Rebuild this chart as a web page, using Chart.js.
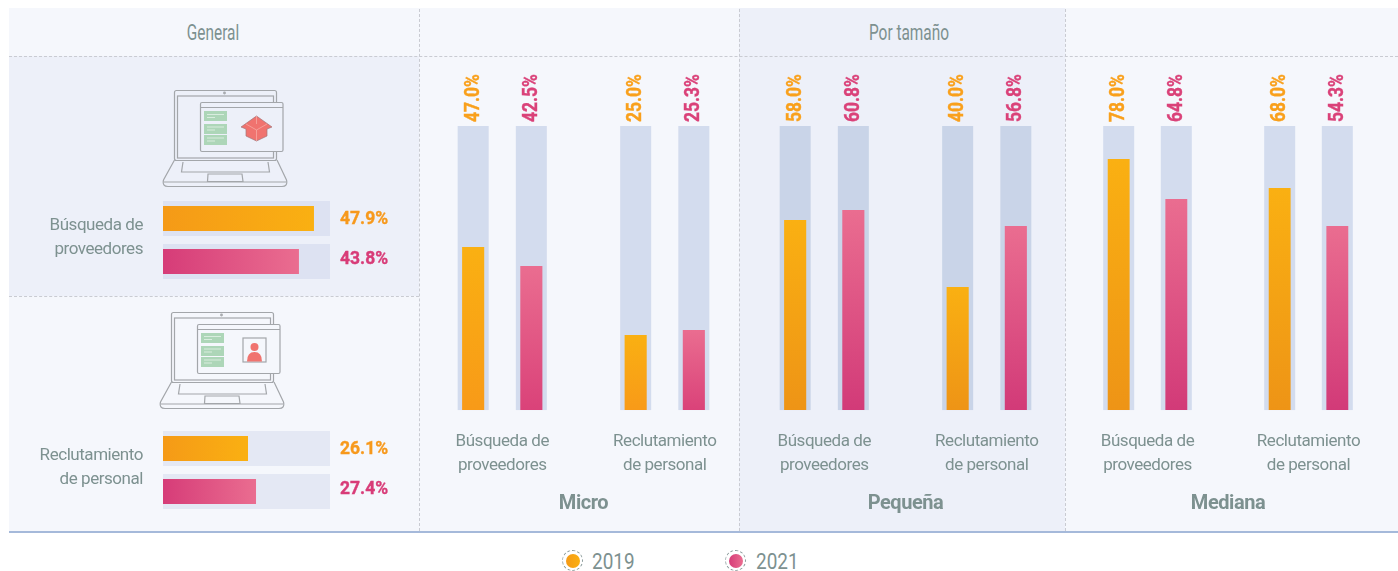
<!DOCTYPE html>
<html>
<head>
<meta charset="utf-8">
<script src="https://cdn.jsdelivr.net/npm/chart.js@4"></script>
<style>
    html, body { margin: 0; padding: 0; background: #fff; }
    #page { position: relative; width: 1398px; height: 571px; overflow: hidden; font-family: Roboto, sans-serif; color: #7d9190; }
    #page > div, #page > canvas, #page > svg { position: absolute; }
    .band { background: #edf0f9; }
    .head { top: 20px; font-size: 22px; line-height: 26px; transform: scaleX(.7); text-align: center; white-space: nowrap; }
    .dot { width: 14px; height: 14px; border-radius: 50%; top: 554px; }
    .ring { width: 21px; height: 21px; border-radius: 50%; top: 550px; border: 1px dashed #8b9c9c; box-sizing: border-box; }
    .year { top: 549px; font-size: 22px; line-height: 26px; transform: scaleX(.86); transform-origin: left center; }
    .rule { border-color: #c9cbd2; border-style: dashed; border-width: 0; }
</style>
</head>
<body>
<div id="page">
    <div style="left:9px;top:8px;width:1389px;height:523px;background:#f5f7fc"></div>
    <div class="band" style="left:9px;top:56px;width:410px;height:240px"></div>
    <div class="band" style="left:739px;top:8px;width:326px;height:523px"></div>
    <div class="rule" style="left:9px;top:56px;width:1389px;border-top-width:1px"></div>
    <div class="rule" style="left:9px;top:296px;width:410px;border-top-width:1px"></div>
    <div class="rule" style="left:419px;top:9px;height:522px;border-left-width:1px"></div>
    <div class="rule" style="left:739px;top:9px;height:522px;border-left-width:1px"></div>
    <div class="rule" style="left:1065px;top:9px;height:522px;border-left-width:1px"></div>
    <div style="left:9px;top:531px;width:1389px;height:2px;background:#a5b9da"></div>

    <div class="head" style="left:113px;width:200px">General</div>
    <div class="head" style="left:809px;width:200px">Por tamaño</div>

    <svg id="icons" style="left:0;top:0" width="430" height="430" fill="none" stroke="#a3a6aa" stroke-width="1.2">
        <defs>
            <g id="laptop">
                <rect x="174.5" y="90.5" width="102" height="70" rx="2"/>
                <rect x="177.5" y="96" width="96" height="62"/>
                <path d="M174.5 160 L163.5 180 Q162 186.5 168 186.5 L282 186.5 Q288 186.5 286.5 180 L277 160"/>
                <path d="M164 182 L286 182"/>
                <path d="M183 162 L181.5 172 L269.5 172 L268 162"/>
                <path d="M208 174 L207.5 181.5 L243 181.5 L242 174 Z"/>
                <circle cx="224.5" cy="93" r=".8"/>
                <rect x="200.5" y="102.5" width="82.5" height="49" rx="1.5" style="fill:var(--win)"/>
                <path d="M200.5 107.5 L283 107.5"/>
                <g fill="#add6b8" stroke="none">
                    <rect x="204" y="111" width="23" height="10"/>
                    <rect x="204" y="124" width="23" height="10"/>
                    <rect x="204" y="135" width="23" height="10"/>
                </g>
                <g stroke="#e4f2e8" stroke-width=".8">
                    <path d="M207 114.5 H224 M207 117.5 H215 M207 127 H224 M207 130 H215 M207 138 H224 M207 141 H215"/>
                </g>
            </g>
        </defs>
        <use href="#laptop" style="--win:#edf0f9"/>
        <g stroke="#a3757a" stroke-width=".7" fill="#f0736f">
            <path d="M256.5 116 L272 127 L267 129 L267 136 L256.5 141 L246 136 L246 129 L241 127 Z"/>
            <path fill="none" stroke="#f6b0aa" d="M246 124 L256.5 130 L267 124 M256.5 130 L256.5 141 M256.5 116 L256.5 124"/>
        </g>
        <use href="#laptop" x="-3" y="222" style="--win:#f5f7fc"/>
        <rect x="243" y="338" width="23" height="24" fill="#f5f7fc"/>
        <circle cx="254.5" cy="347" r="4" fill="#f0736f" stroke="none"/>
        <path d="M247 361.5 Q247 352 254.5 352 Q262 352 262 361.5 Z" fill="#f0736f" stroke="none"/>
    </svg>

    <canvas id="generalA" style="left:0;top:197px;width:400px;height:86px"></canvas>
    <canvas id="generalB" style="left:0;top:427px;width:400px;height:86px"></canvas>
    <canvas id="micro" style="left:421px;top:60px;width:325px;height:472px"></canvas>
    <canvas id="pequena" style="left:743px;top:60px;width:325px;height:472px"></canvas>
    <canvas id="mediana" style="left:1067px;top:60px;width:322px;height:472px"></canvas>

    <div class="ring" style="left:562px"></div>
    <div class="dot" style="left:565.5px;background:linear-gradient(90deg,#f59a17,#fab012)"></div>
    <div class="year" style="left:592px">2019</div>
    <div class="ring" style="left:725px"></div>
    <div class="dot" style="left:728.5px;background:linear-gradient(90deg,#d63c78,#ea6d90)"></div>
    <div class="year" style="left:756px">2021</div>
</div>

<script>
// Years and question labels
const years = ['2019', '2021'];
const groupLabels = [['Búsqueda de', 'proveedores'], ['Reclutamiento', 'de personal']];

// Printed percentages
const microPrinted2019 = ['47.0%', '25.0%'];
const microPrinted2021 = ['42.5%', '25.3%'];
const pequenaPrinted2019 = ['58.0%', '40.0%'];
const pequenaPrinted2021 = ['60.8%', '56.8%'];
const medianaPrinted2019 = ['78.0%', '68.0%'];
const medianaPrinted2021 = ['64.8%', '54.3%'];
const generalPrintedA = ['47.9%', '43.8%'];
const generalPrintedB = ['26.1%', '27.4%'];

// Bar lengths, share of the track. The reference does
// not draw its bars in proportion to the printed numbers.
const micro2019 = [57.4, 26.4];
const micro2021 = [50.7, 28.2];
const pequena2019 = [66.9, 43.3];
const pequena2021 = [70.4, 64.8];
const mediana2019 = [88.4, 78.2];
const mediana2021 = [74.3, 64.8];
const generalA = [90.4, 81.4];
const generalB = [50.9, 55.7];

const FONT = 'Roboto, sans-serif';
const GREY = '#7d9190';
const ORANGE = ['#f59a17', '#fab012'];
const PINK = ['#d63c78', '#ea6d90'];

/**
 * Gradient over one bar, from its base to its tip
 */
function barGradient(ctx, colors, horizontal) {
    const chart = ctx.chart;
    if (!chart.chartArea || !ctx.parsed) {
        return colors[1];
    }
    const canvas = chart.ctx;
    let gradient;
    if (horizontal) {
        const x = chart.scales.x;
        gradient = canvas.createLinearGradient(x.getPixelForValue(0), 0, x.getPixelForValue(ctx.parsed.x), 0);
    } else {
        const y = chart.scales.y;
        gradient = canvas.createLinearGradient(0, y.getPixelForValue(0), 0, y.getPixelForValue(ctx.parsed.y));
    }
    gradient.addColorStop(0, colors[0]);
    gradient.addColorStop(1, colors[1]);
    return gradient;
}

// The reference is set in a condensed face, so tighten the axis text a little
const tightTextPlugin = {
    id: 'tightText',
    beforeDraw(chart) {
        chart.ctx.letterSpacing = '-0.45px';
    }
};

// Pale track behind every bar
const trackPlugin = {
    id: 'track',
    beforeDatasetsDraw(chart, args, opts) {
        const { ctx, scales } = chart;
        ctx.save();
        ctx.fillStyle = opts.color;
        chart.data.datasets.forEach((ds, i) => {
            chart.getDatasetMeta(i).data.forEach(bar => {
                if (chart.options.indexAxis === 'y') {
                    ctx.fillRect(scales.x.left, bar.y - opts.size / 2, scales.x.width, opts.size);
                } else {
                    ctx.fillRect(bar.x - opts.size / 2, scales.y.top, opts.size, scales.y.height);
                }
            });
        });
        ctx.restore();
    }
};

// Printed percentage: rotated on top of the track, or right of it
const printedPlugin = {
    id: 'printed',
    afterDatasetsDraw(chart) {
        const { ctx, scales } = chart;
        ctx.save();
        ctx.letterSpacing = '0px';
        ctx.textBaseline = 'middle';
        ctx.textAlign = 'left';
        ctx.lineWidth = 0.4;
        chart.data.datasets.forEach((ds, i) => {
            chart.getDatasetMeta(i).data.forEach((bar, j) => {
                ctx.save();
                ctx.fillStyle = ds.printedColor;
                ctx.strokeStyle = ds.printedColor;
                if (chart.options.indexAxis === 'y') {
                    ctx.font = 'bold 19px ' + FONT;
                    ctx.translate(scales.x.right + 10, bar.y + (i === 0 ? 1 : -2));
                    ctx.scale(0.92, 1);
                } else {
                    ctx.font = 'bold 20px ' + FONT;
                    ctx.translate(bar.x + 0.5, scales.y.top - 4);
                    ctx.rotate(-Math.PI / 2);
                    ctx.scale(0.87, 1);
                }
                ctx.fillText(ds.printed[j], 0, 0);
                ctx.strokeText(ds.printed[j], 0, 0);
                ctx.restore();
            });
        });
        ctx.restore();
    }
};

/**
 * Vertical panel: two question groups, two years each
 */
function sizeChart(id, title, v2019, v2021, p2019, p2021, trackColor, low) {
    new Chart(document.getElementById(id), {
        type: 'bar',
        data: {
            labels: groupLabels,
            datasets: [
                {
                    label: years[0], data: v2019, printed: p2019, printedColor: '#f9a01c',
                    backgroundColor: ctx => barGradient(ctx, [low[0], ORANGE[1]], false)
                },
                {
                    label: years[1], data: v2021, printed: p2021, printedColor: '#da4279',
                    backgroundColor: ctx => barGradient(ctx, [low[1], PINK[1]], false)
                }
            ]
        },
        options: {
            responsive: false,
            animation: false,
            layout: { padding: { top: 66 } },
            datasets: { bar: { categoryPercentage: 0.716, barPercentage: 0.38 } },
            plugins: {
                legend: { display: false },
                tooltip: { enabled: false },
                track: { color: trackColor, size: 31 }
            },
            scales: {
                y: { display: false, min: 0, max: 100 },
                x: {
                    grid: { display: false },
                    border: { display: false },
                    ticks: {
                        color: GREY,
                        padding: 12,
                        maxRotation: 0,
                        font: { family: FONT, size: 17, lineHeight: 1.41 }
                    },
                    title: {
                        display: true,
                        text: title,
                        color: GREY,
                        padding: { top: 2, bottom: 16 },
                        font: { family: FONT, size: 20, weight: 'bold' }
                    }
                }
            }
        },
        plugins: [tightTextPlugin, trackPlugin, printedPlugin]
    });
}

/**
 * Left panel: one question, horizontal bars for both years
 */
function generalChart(id, label, values, printed, trackColor) {
    new Chart(document.getElementById(id), {
        type: 'bar',
        data: {
            labels: [label],
            datasets: [
                {
                    label: years[0], data: [values[0]], printed: [printed[0]], printedColor: '#f7991c',
                    backgroundColor: ctx => barGradient(ctx, ORANGE, true)
                },
                {
                    label: years[1], data: [values[1]], printed: [printed[1]], printedColor: '#d83c78',
                    backgroundColor: ctx => barGradient(ctx, PINK, true)
                }
            ]
        },
        options: {
            indexAxis: 'y',
            responsive: false,
            animation: false,
            layout: { padding: { right: 70 } },
            datasets: { bar: { categoryPercentage: 1, barPercentage: 0.58 } },
            plugins: {
                legend: { display: false },
                tooltip: { enabled: false },
                track: { color: trackColor, size: 35 }
            },
            scales: {
                x: { display: false, min: 0, max: 100 },
                y: {
                    // Fixed gutter, and no room reserved for the two line label
                    afterFit: scale => {
                        scale.width = 163;
                        scale.paddingTop = 0;
                        scale.paddingBottom = 0;
                    },
                    grid: { display: false, drawTicks: false },
                    border: { display: false },
                    ticks: {
                        color: GREY,
                        padding: 20,
                        labelOffset: -2,
                        font: { family: FONT, size: 17, lineHeight: 1.41 }
                    }
                }
            }
        },
        plugins: [tightTextPlugin, trackPlugin, printedPlugin]
    });
}

// Canvas sizes come from the attributes, so set them before the charts start
document.querySelectorAll('canvas').forEach(c => {
    c.width = parseInt(c.style.width);
    c.height = parseInt(c.style.height);
});

generalChart('generalA', groupLabels[0], generalA, generalPrintedA, '#dde2f2');
generalChart('generalB', groupLabels[1], generalB, generalPrintedB, '#e4e8f4');
sizeChart('micro', 'Micro', micro2019, micro2021, microPrinted2019, microPrinted2021, '#d3dcee', ['#f89a18', '#da4279']);
sizeChart('pequena', 'Pequeña', pequena2019, pequena2021, pequenaPrinted2019, pequenaPrinted2021, '#c9d4e8', ['#ee9416', '#d23a78']);
sizeChart('mediana', 'Mediana', mediana2019, mediana2021, medianaPrinted2019, medianaPrinted2021, '#d3dcee', ['#ee9416', '#d23a78']);
</script>
</body>
</html>
